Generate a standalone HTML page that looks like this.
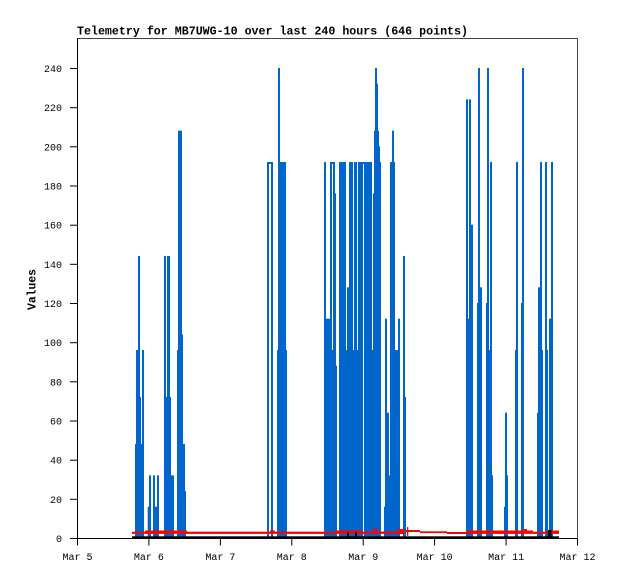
<!DOCTYPE html>
<html>
<head>
<meta charset="utf-8">
<style>
html,body{margin:0;padding:0;background:#fff;}
svg{display:block;}
text{font-family:"Liberation Mono","DejaVu Sans Mono",monospace;fill:#000;}
.t{font-size:10px;}
.b{font-size:11.5px;font-weight:bold;}
</style>
</head>
<body>
<svg width="618" height="579" viewBox="0 0 618 579" xmlns="http://www.w3.org/2000/svg">
<rect x="0" y="0" width="618" height="579" fill="#fff"/>

<!-- title -->
<text class="b" x="77" y="34.5" textLength="391" lengthAdjust="spacingAndGlyphs">Telemetry for MB7UWG-10 over last 240 hours (646 points)</text>

<!-- y label -->
<text class="b" transform="translate(35.7,289.5) rotate(-90)" text-anchor="middle" textLength="41" lengthAdjust="spacingAndGlyphs">Values</text>

<!-- frame -->
<line x1="77" y1="38.5" x2="577" y2="38.5" stroke="#444" stroke-width="1"/>
<line x1="577.5" y1="38" x2="577.5" y2="538" stroke="#444" stroke-width="1"/>

<!-- blue series -->
<g fill="#0066cc" transform="translate(0,538) scale(1,-1.958333)">
<!-- cluster 1 -->
<rect x="135" y="0" width="1" height="48"/>
<rect x="136" y="0" width="2" height="96"/>
<rect x="138" y="0" width="2" height="144"/>
<rect x="140" y="0" width="1" height="72"/>
<rect x="141" y="0" width="1" height="48"/>
<rect x="142" y="0" width="2" height="96"/>
<rect x="147.7" y="0" width="1.3" height="16"/>
<rect x="149" y="0" width="2" height="32"/>
<rect x="153" y="0" width="2" height="32"/>
<rect x="155" y="0" width="2" height="16"/>
<rect x="157" y="0" width="2" height="32"/>
<rect x="164" y="0" width="2" height="144"/>
<rect x="166" y="0" width="1" height="72"/>
<rect x="167" y="0" width="3" height="144"/>
<rect x="170" y="0" width="1" height="72"/>
<rect x="171" y="0" width="3" height="32"/>
<rect x="177" y="0" width="1" height="96"/>
<rect x="178" y="0" width="4" height="208"/>
<rect x="182" y="0" width="1" height="104"/>
<rect x="183" y="0" width="2" height="48"/>
<rect x="185" y="0" width="1" height="24"/>
<!-- cluster 2 -->
<rect x="267" y="0" width="6" height="192"/>
<rect x="277" y="0" width="10" height="96"/>
<rect x="278" y="0" width="8" height="192"/>
<rect x="278" y="0" width="2" height="240"/>
<!-- cluster 3 -->
<rect x="324" y="0" width="2" height="192"/>
<rect x="326" y="0" width="4" height="112"/>
<rect x="330" y="0" width="5" height="192"/>
<rect x="335" y="0" width="1" height="176"/>
<rect x="336" y="0" width="1" height="88"/>
<rect x="339" y="0" width="7" height="192"/>
<rect x="346" y="0" width="1" height="96"/>
<rect x="347" y="0" width="2" height="128"/>
<rect x="349" y="0" width="4" height="192"/>
<rect x="353" y="0" width="1" height="96"/>
<rect x="354" y="0" width="3" height="192"/>
<rect x="357" y="0" width="1" height="96"/>
<rect x="358" y="0" width="14" height="192"/>
<rect x="372" y="0" width="1" height="96"/>
<rect x="373" y="0" width="1" height="176"/>
<rect x="374" y="0" width="1" height="208"/>
<rect x="375" y="0" width="2" height="240"/>
<rect x="377" y="0" width="1" height="232"/>
<rect x="378" y="0" width="1" height="208"/>
<rect x="379" y="0" width="1" height="200"/>
<rect x="380" y="0" width="1" height="192"/>
<rect x="384" y="0" width="1" height="16"/>
<rect x="385" y="0" width="2" height="112"/>
<rect x="387" y="0" width="2" height="64"/>
<rect x="389" y="0" width="1" height="32"/>
<rect x="390" y="0" width="2" height="192"/>
<rect x="392" y="0" width="2" height="208"/>
<rect x="394" y="0" width="1" height="192"/>
<rect x="395" y="0" width="3" height="96"/>
<rect x="398" y="0" width="2" height="112"/>
<rect x="403" y="0" width="2" height="144"/>
<rect x="405" y="0" width="1" height="72"/>
<!-- cluster 4 -->
<rect x="466" y="0" width="2" height="224"/>
<rect x="468" y="0" width="1" height="112"/>
<rect x="469" y="0" width="2" height="224"/>
<rect x="471" y="0" width="2" height="160"/>
<rect x="477" y="0" width="1" height="120"/>
<rect x="478" y="0" width="2" height="240"/>
<rect x="480" y="0" width="2" height="128"/>
<rect x="486" y="0" width="1" height="120"/>
<rect x="487" y="0" width="2" height="240"/>
<rect x="489" y="0" width="1" height="96"/>
<rect x="490" y="0" width="2" height="192"/>
<rect x="492" y="0" width="1" height="32"/>
<rect x="504" y="0" width="1" height="16"/>
<rect x="505" y="0" width="2" height="64"/>
<rect x="507" y="0" width="1" height="32"/>
<!-- cluster 5 -->
<rect x="515" y="0" width="1" height="96"/>
<rect x="516" y="0" width="2" height="192"/>
<rect x="521" y="0" width="1" height="120"/>
<rect x="522" y="0" width="2" height="240"/>
<rect x="537" y="0" width="1" height="64"/>
<rect x="538" y="0" width="2" height="128"/>
<rect x="540" y="0" width="2" height="192"/>
<rect x="542" y="0" width="1" height="96"/>
<rect x="545" y="0" width="2" height="192"/>
<rect x="547" y="0" width="1" height="96"/>
<rect x="549" y="0" width="2" height="112"/>
<rect x="551" y="0" width="2" height="192"/>
</g>

<!-- white inner gaps -->
<g fill="#fff">
<rect x="269" y="164" width="2" height="373"/>
<rect x="332" y="164" width="1" height="186"/>
<rect x="363" y="164" width="1" height="372"/>
<rect x="346" y="164" width="1" height="0"/>
</g>

<!-- red series -->
<g fill="#ff0000">
<rect x="132" y="531.7" width="13" height="2.2"/>
<rect x="145" y="530.5" width="42" height="3.4"/>
<rect x="187" y="531.7" width="83" height="2.2"/>
<rect x="270" y="530.5" width="5" height="3.4"/>
<rect x="275" y="531.7" width="62" height="2.2"/>
<rect x="337" y="530.5" width="25" height="3.4"/>
<rect x="362" y="531.7" width="11" height="2.2"/>
<rect x="373" y="528.5" width="4" height="5.2"/>
<rect x="377" y="531.5" width="21" height="2.4"/>
<rect x="398" y="529" width="6" height="5"/>
<rect x="404" y="530" width="4" height="2"/>
<rect x="407" y="527" width="1.3" height="9"/>
<rect x="408" y="530" width="12" height="2"/>
<rect x="420" y="531.3" width="27" height="1.8"/>
<rect x="447" y="532" width="20" height="2"/>
<rect x="467" y="530.5" width="66" height="3.4"/>
<rect x="524" y="529" width="3" height="2"/>
<rect x="533" y="531.7" width="14" height="2.2"/>
<rect x="547" y="530.5" width="12" height="3.4"/>
</g>

<!-- black series -->
<g fill="#000">
<rect x="132" y="536.3" width="427" height="2.2"/>
<rect x="347" y="532" width="2" height="5"/>
<rect x="355" y="532" width="2" height="5"/>
<rect x="548" y="530" width="3.5" height="7"/>
</g>

<!-- axes -->
<line x1="77.5" y1="38" x2="77.5" y2="538.5" stroke="#000" stroke-width="1"/>
<line x1="77" y1="538.5" x2="577" y2="538.5" stroke="#000" stroke-width="1"/>

<!-- y ticks -->
<g stroke="#000" stroke-width="1">
<line x1="70" y1="538.5" x2="77" y2="538.5"/>
<line x1="70" y1="499.3" x2="77" y2="499.3"/>
<line x1="70" y1="460.2" x2="77" y2="460.2"/>
<line x1="70" y1="421" x2="77" y2="421"/>
<line x1="70" y1="381.8" x2="77" y2="381.8"/>
<line x1="70" y1="342.7" x2="77" y2="342.7"/>
<line x1="70" y1="303.5" x2="77" y2="303.5"/>
<line x1="70" y1="264.3" x2="77" y2="264.3"/>
<line x1="70" y1="225.2" x2="77" y2="225.2"/>
<line x1="70" y1="186" x2="77" y2="186"/>
<line x1="70" y1="146.8" x2="77" y2="146.8"/>
<line x1="70" y1="107.7" x2="77" y2="107.7"/>
<line x1="70" y1="68.5" x2="77" y2="68.5"/>
</g>
<g class="t" text-anchor="end">
<text class="t" x="62" y="542">0</text>
<text class="t" x="62" y="502.8">20</text>
<text class="t" x="62" y="463.7">40</text>
<text class="t" x="62" y="424.5">60</text>
<text class="t" x="62" y="385.3">80</text>
<text class="t" x="62" y="346.2">100</text>
<text class="t" x="62" y="307">120</text>
<text class="t" x="62" y="267.8">140</text>
<text class="t" x="62" y="228.7">160</text>
<text class="t" x="62" y="189.5">180</text>
<text class="t" x="62" y="150.3">200</text>
<text class="t" x="62" y="111.2">220</text>
<text class="t" x="62" y="72">240</text>
</g>

<!-- x ticks -->
<g stroke="#000" stroke-width="1">
<line x1="77.5" y1="538" x2="77.5" y2="545.5"/>
<line x1="148.9" y1="538" x2="148.9" y2="545.5"/>
<line x1="220.4" y1="538" x2="220.4" y2="545.5"/>
<line x1="291.8" y1="538" x2="291.8" y2="545.5"/>
<line x1="363.2" y1="538" x2="363.2" y2="545.5"/>
<line x1="434.6" y1="538" x2="434.6" y2="545.5"/>
<line x1="506.1" y1="538" x2="506.1" y2="545.5"/>
<line x1="577.5" y1="538" x2="577.5" y2="545.5"/>
</g>
<g text-anchor="middle">
<text class="t" x="77.5" y="560">Mar 5</text>
<text class="t" x="148.9" y="560">Mar 6</text>
<text class="t" x="220.4" y="560">Mar 7</text>
<text class="t" x="291.8" y="560">Mar 8</text>
<text class="t" x="363.2" y="560">Mar 9</text>
<text class="t" x="434.6" y="560">Mar 10</text>
<text class="t" x="506.1" y="560">Mar 11</text>
<text class="t" x="577.5" y="560">Mar 12</text>
</g>
</svg>
</body>
</html>
